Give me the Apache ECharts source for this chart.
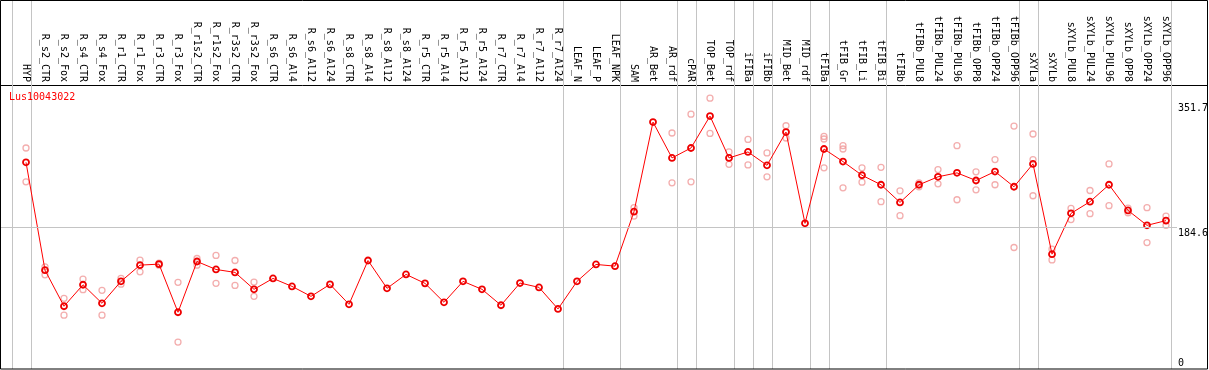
<!DOCTYPE html>
<html>
<head>
<meta charset="utf-8">
<script src="https://cdn.jsdelivr.net/npm/echarts@6/dist/echarts.min.js"></script>
<style>
html,body{margin:0;padding:0;background:#fff;}
#c{width:1209px;height:370px;}
</style>
</head>
<body>
<div id="c"></div>
<script>
// ---------- data ----------
var geneName = 'Lus10043022';
var categories = ['HYP','R_s2_CTR','R_s2_Fox','R_s4_CTR','R_s4_Fox','R_r1_CTR','R_r1_Fox','R_r3_CTR','R_r3_Fox','R_r1s2_CTR','R_r1s2_Fox','R_r3s2_CTR','R_r3s2_Fox','R_s6_CTR','R_s6_Al4','R_s6_Al12','R_s6_Al24','R_s8_CTR','R_s8_Al4','R_s8_Al12','R_s8_Al24','R_r5_CTR','R_r5_Al4','R_r5_Al12','R_r5_Al24','R_r7_CTR','R_r7_Al4','R_r7_Al12','R_r7_Al24','LEAF_N','LEAF_P','LEAF_NPK','SAM','AR_Bet','AR_rdf','cPAR','TOP_Bet','TOP_rdf','iFIBa','iFIBb','MID_Bet','MID_rdf','tFIBa','tFIB_Gr','tFIB_Li','tFIB_Bi','tFIBb','tFIBb_PUL8','tFIBb_PUL24','tFIBb_PUL96','tFIBb_OPP8','tFIBb_OPP24','tFIBb_OPP96','sXYLa','sXYLb','sXYLb_PUL8','sXYLb_PUL24','sXYLb_PUL96','sXYLb_OPP8','sXYLb_OPP24','sXYLb_OPP96'];
var meanValues = [268.8,129.2,82.5,110.3,86.3,114.7,135.7,137.0,74.7,140.4,130.1,126.3,104.4,118.5,108.2,95.3,110.8,85.0,141.7,105.7,123.7,112.1,87.6,114.7,104.4,83.8,112.5,106.9,79.0,114.7,136.6,134.4,204.9,320.8,274.4,287.3,328.6,274.4,282.2,264.9,307.9,189.8,286.0,269.7,252.0,239.7,216.9,239.7,250.0,255.1,245.2,256.8,237.1,266.7,149.9,202.7,217.8,239.7,206.5,187.2,193.3];
var rep1 = [287.3,133.5,92.8,117.6,103.1,118.5,142.1,138.3,113.4,144.3,148.2,141.7,113.8,null,null,null,null,null,null,null,null,null,null,null,null,null,null,null,null,null,null,null,210.0,null,306.7,331.1,351.7,282.2,298.4,280.9,316.1,null,302.3,290.3,261.6,262.3,231.9,242.2,259.4,290.3,256.4,272.3,315.7,305.4,156.3,209.1,232.3,266.7,209.5,210.0,199.2];
var rep2 = [243.5,123.2,70.9,103.9,70.9,111.0,127.0,135.7,36.1,135.7,112.1,109.5,95.3,null,null,null,null,null,null,null,null,null,null,null,null,null,null,null,null,null,null,null,199.2,null,242.2,243.5,306.1,266.2,265.4,250.0,300.2,null,298.9,286.0,243.0,217.8,199.7,237.0,240.9,220.3,233.2,239.7,158.5,272.3,142.5,194.6,202.3,212.6,203.5,164.9,187.2];
var rep3 = [null,null,null,null,null,null,null,null,null,null,null,null,null,null,null,null,null,null,null,null,null,null,null,null,null,null,null,null,null,null,null,null,null,null,null,null,null,null,null,null,null,null,261.6,235.8,null,null,null,null,null,null,null,null,null,225.5,null,null,null,null,null,null,null];
var referenceValue = 184.6;
var yTickLabels = [351.7, 184.6, 0];
// category indices where a group separator sits (before that category)
var groupBreaks = [0,1,29,32,35,36,38,39,40,42,43,46,53,54,61];

// ---------- chart ----------
var FONT = '"DejaVu Sans Mono", "Liberation Mono", monospace';
var chart = echarts.init(document.getElementById('c'), null, {renderer: 'canvas'});

function pairs(arr) {
  var out = [];
  for (var i = 0; i < arr.length; i++) if (arr[i] != null) out.push([i, arr[i]]);
  return out;
}
var allReps = pairs(rep1).concat(pairs(rep2), pairs(rep3));
var idx = categories.map(function (c, i) { return i; });

var xMin = -25 / 19;
var xMax = xMin + 1206 / 19;

chart.setOption({
  animation: false,
  backgroundColor: '#fff',
  grid: {left: 1, top: 85, width: 1206, height: 286.3, containLabel: false},
  xAxis: {
    type: 'value', position: 'top', min: xMin, max: xMax,
    axisLine: {show: true, onZero: false, lineStyle: {color: '#000', width: 1}},
    axisTick: {show: false},
    splitLine: {show: false},
    axisLabel: {
      show: true, customValues: idx, rotate: 90, margin: 3,
      fontFamily: FONT, fontSize: 10, color: '#000',
      formatter: function (v) { return categories[Math.round(v)]; }
    }
  },
  yAxis: {
    type: 'value', min: 0, max: 368.8, show: false,
    splitLine: {show: false}
  },
  series: [
    {
      type: 'scatter', data: allReps, symbol: 'circle', symbolSize: 6,
      itemStyle: {color: 'rgba(0,0,0,0)', borderColor: '#f09a9a', borderWidth: 1.3},
      z: 2, silent: true,
      markLine: {
        silent: true, symbol: 'none', label: {show: false},
        lineStyle: {color: '#c4c4c4', width: 1, type: 'solid'},
        data: [[{coord: [xMin, referenceValue]}, {coord: [(1177 - 26) / 19, referenceValue]}]]
      }
    },
    {
      type: 'line', data: pairs(meanValues), symbol: 'circle', symbolSize: 6, showSymbol: true,
      lineStyle: {color: '#ff0000', width: 1},
      itemStyle: {color: 'rgba(0,0,0,0)', borderColor: '#ee0000', borderWidth: 1.8},
      z: 3, silent: true
    }
  ]
});

// decorations positioned via the chart's own scales
var g = [];
groupBreaks.forEach(function (k) {
  var px = Math.round(chart.convertToPixel({xAxisIndex: 0}, k - 0.7526)) + 0.5;
  g.push({type: 'line', shape: {x1: px, y1: 0, x2: px, y2: 369}, style: {stroke: '#c4c4c4', lineWidth: 1}, z: 1, silent: true});
});
yTickLabels.forEach(function (v) {
  var py = chart.convertToPixel({yAxisIndex: 0}, v);
  var top = Math.min(Math.max(py + 1, 103), 358.5);
  g.push({type: 'text', x: 1178, y: top, style: {text: String(v), font: '10px ' + FONT, fill: '#000', textAlign: 'left', textVerticalAlign: 'top'}, z: 5, silent: true});
});
g.push({type: 'text', x: 9, y: 92, style: {text: geneName, font: '10px ' + FONT, fill: '#ff0000', textAlign: 'left', textVerticalAlign: 'top'}, z: 5, silent: true});
g.push({type: 'rect', shape: {x: 0.5, y: 0.5, width: 1207, height: 368.5}, style: {fill: 'none', stroke: '#000', lineWidth: 1}, z: 6, silent: true});
chart.setOption({graphic: g});
</script>
</body>
</html>
